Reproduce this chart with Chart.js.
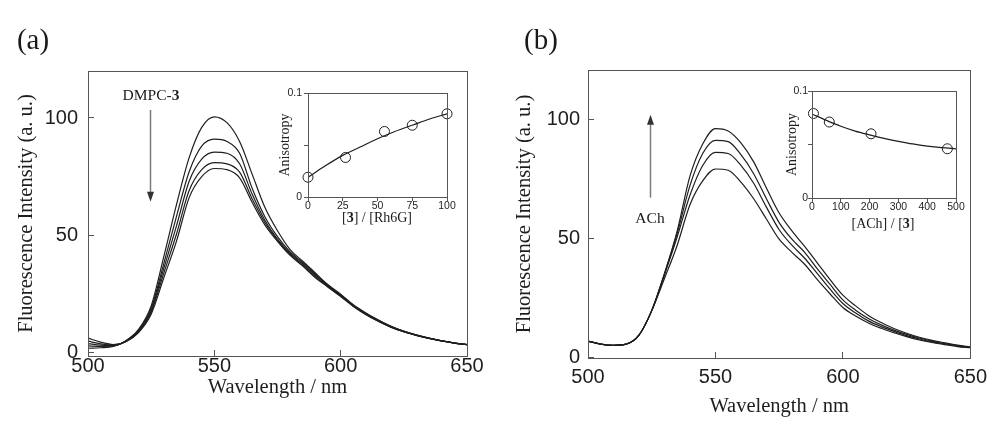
<!DOCTYPE html>
<html>
<head>
<meta charset="utf-8">
<script src="https://cdn.jsdelivr.net/npm/chart.js@4.4.1/dist/chart.umd.min.js"></script>
<style>
  html, body { margin: 0; padding: 0; background: #fff; }
  #wrap { position: relative; width: 1000px; height: 436px; overflow: hidden; }
  canvas { position: absolute; }
  .lbl {
    position: absolute; transform: translate(-50%, -50%);
    font-family: "Liberation Serif", "Times New Roman", serif;
    color: #1a1a1a; white-space: nowrap; line-height: 1;
  }
</style>
</head>
<body>
<div id="wrap">
  <canvas id="mainA" width="500" height="436" style="left:0;top:0"></canvas>
  <canvas id="mainB" width="500" height="436" style="left:500px;top:0"></canvas>
  <canvas id="insetA" width="215" height="150" style="left:255px;top:82px"></canvas>
  <canvas id="insetB" width="225" height="160" style="left:760px;top:80px"></canvas>

  <div class="lbl" style="left:33px;top:39px;font-size:29px">(a)</div>
  <div class="lbl" style="left:541px;top:39px;font-size:29px">(b)</div>
  <div class="lbl" style="left:151px;top:95px;font-size:15.5px">DMPC-<b>3</b></div>
  <div class="lbl" style="left:650px;top:218px;font-size:15.5px">ACh</div>
  <div class="lbl" style="left:377px;top:218px;font-size:14px">[<b>3</b>] / [Rh6G]</div>
  <div class="lbl" style="left:883px;top:224px;font-size:14px">[ACh] / [<b>3</b>]</div>
</div>

<script>
// ---- data ----
const wavelengths = [500, 505, 510, 515, 520, 525, 530, 535, 540, 545, 550, 555, 560, 565, 570, 575,
                     580, 585, 590, 595, 600, 605, 610, 615, 620, 625, 630, 635, 640, 645, 650];

// (a) spectra, DMPC-3 added (intensity decreases)
const specA1 = [2, 2.2, 2.8, 5.2, 10, 20, 41, 63, 83, 96, 100.5, 98, 90, 76, 62, 52,
                44, 39, 34, 29, 25, 20.5, 17, 14, 11.3, 9.3, 7.7, 6.3, 5.2, 4.3, 3.5];
const specA2 = [3, 2.8, 3.0, 5.1, 9.6, 19, 38, 58, 77, 88, 91, 90, 85, 70, 58, 49.5,
                43, 38.5, 33.5, 28.8, 24.7, 20.3, 16.8, 13.8, 11.2, 9.2, 7.6, 6.3, 5.1, 4.2, 3.5];
const specA3 = [4, 3.3, 3.2, 5.0, 9.3, 18, 36, 54, 73, 82.5, 85.5, 85, 80.5, 67.5, 56.5, 48.5,
                42.5, 38, 33, 28.5, 24.5, 20.2, 16.6, 13.7, 11.1, 9.1, 7.5, 6.2, 5.1, 4.2, 3.5];
const specA4 = [5, 3.9, 3.4, 4.9, 9, 17.3, 34, 50.5, 69, 78, 81, 80.5, 77, 65.5, 55.5, 48,
                42, 37.5, 32.5, 28.2, 24.2, 20, 16.5, 13.5, 11, 9, 7.5, 6.2, 5.1, 4.2, 3.5];
const specA5 = [6.3, 4.6, 3.6, 4.8, 8.7, 16.5, 32, 47.5, 66, 75, 78.5, 78, 74.5, 64, 54.5, 47.5,
                41.5, 37, 32, 28, 24, 19.8, 16.3, 13.4, 10.9, 9, 7.5, 6.2, 5.1, 4.2, 3.5];

// (b) spectra, ACh added (intensity increases)
const specB1 = [6.7, 5.4, 4.9, 5.4, 9.2, 19.5, 35, 53, 76, 89.5, 96, 95, 90, 82, 71, 60.5,
                53, 46.5, 39.5, 32.5, 26, 21.5, 17.5, 14.5, 12, 10, 8.3, 7, 6, 5, 4.2];
const specB2 = [6.7, 5.4, 4.9, 5.4, 9.2, 19.5, 35, 52, 72, 85.5, 91, 90.5, 85, 77, 66.5, 56.5,
                49.5, 44, 37, 30.5, 24, 19.7, 16.2, 13.5, 11.3, 9.5, 8, 6.7, 5.7, 4.8, 4.1];
const specB3 = [6.7, 5.4, 4.9, 5.4, 9.2, 19.5, 34.5, 50.5, 68, 80.5, 86, 85.5, 80.5, 73, 63, 53.5,
                47, 41.5, 35, 28.5, 22.5, 18.5, 15.2, 12.8, 10.8, 9, 7.6, 6.4, 5.5, 4.6, 4];
const specB4 = [6.7, 5.4, 4.9, 5.4, 9.2, 19.5, 33, 47, 64, 74, 79, 78.5, 73.5, 66.5, 58, 49.5,
                44, 39, 32.5, 26.5, 20.8, 17.2, 14.3, 12.1, 10.2, 8.6, 7.2, 6.1, 5.2, 4.4, 3.9];

// insets: anisotropy
const ratioA = [0, 27, 55, 75, 100];
const anisoA = [0.019, 0.038, 0.063, 0.069, 0.080];
const fitRatioA = [0, 12.5, 25, 37.5, 50, 62.5, 75, 87.5, 100];
const fitAnisoA = [0.019, 0.030, 0.040, 0.048, 0.056, 0.063, 0.069, 0.075, 0.080];

const ratioB = [5, 60, 205, 470];
const anisoB = [0.079, 0.071, 0.060, 0.046];
const fitRatioB = [0, 50, 100, 150, 200, 250, 300, 350, 400, 450, 500];
const fitAnisoB = [0.0785, 0.0725, 0.067, 0.0625, 0.059, 0.0558, 0.053, 0.0505, 0.0485, 0.047, 0.046];

// tick labels
const wlTicks = [500, 550, 600, 650];
const intTicks = [0, 50, 100];
const anisoTicks = [0, 0.05, 0.1];
const ratioTicksA = [0, 25, 50, 75, 100];
const ratioTicksB = [0, 100, 200, 300, 400, 500];

// ---- helpers ----
const SERIF = '"Liberation Serif", "Times New Roman", serif';
const SANS = '"Liberation Sans", Arial, Helvetica, sans-serif';
const INK = '#1e1e1e';

const toXY = (xs, ys) => xs.map((x, i) => ({ x, y: ys[i] }));
const fixedTicks = list => scale => { scale.ticks = list.map(v => ({ value: v })); };

// full box around the plot area
const framePlugin = {
    id: 'frame',
    afterDraw(chart) {
        const { ctx, chartArea: a } = chart;
        ctx.save();
        ctx.strokeStyle = '#555';
        ctx.lineWidth = 1;
        ctx.strokeRect(Math.round(a.left) + 0.5, Math.round(a.top) + 0.5,
            Math.round(a.right - a.left), Math.round(a.bottom - a.top));
        ctx.restore();
    }
};

// gray arrow in data coordinates
const arrowPlugin = {
    id: 'arrow',
    afterDatasetsDraw(chart, args, opts) {
        if (!opts || opts.x == null) return;
        const { ctx, scales } = chart;
        const px = Math.round(scales.x.getPixelForValue(opts.x)) + 0.5;
        const y0 = scales.y.getPixelForValue(opts.from);
        const y1 = scales.y.getPixelForValue(opts.to);
        const dir = y1 > y0 ? 1 : -1;
        ctx.save();
        ctx.strokeStyle = '#7a7a7a';
        ctx.fillStyle = '#333';
        ctx.lineWidth = 1.5;
        ctx.beginPath();
        ctx.moveTo(px, y0);
        ctx.lineTo(px, y1 - dir * 8);
        ctx.stroke();
        ctx.beginPath();
        ctx.moveTo(px, y1);
        ctx.lineTo(px - 3.5, y1 - dir * 10);
        ctx.lineTo(px + 3.5, y1 - dir * 10);
        ctx.closePath();
        ctx.fill();
        ctx.restore();
    }
};

function spectrumSet(series) {
    return series.map(s => ({
        data: toXY(wavelengths, s),
        borderColor: INK,
        borderWidth: 1.2,
        pointRadius: 0,
        fill: false,
        cubicInterpolationMode: 'monotone'
    }));
}

function mainChart(id, series, g) {
    return new Chart(document.getElementById(id), {
        type: 'line',
        data: { datasets: spectrumSet(series) },
        options: {
            responsive: false,
            animation: false,
            layout: { padding: { left: 0, right: g.right, top: g.top, bottom: 0 } },
            plugins: { legend: { display: false }, tooltip: { enabled: false }, arrow: g.arrow },
            scales: {
                x: {
                    type: 'linear', min: 500, max: 650,
                    afterBuildTicks: fixedTicks(wlTicks),
                    afterFit: s => { s.height = g.xh; },
                    grid: { drawOnChartArea: false, color: '#555', tickLength: -6 },
                    border: { display: false },
                    ticks: { color: INK, padding: g.xpad, maxRotation: 0,
                             font: { family: SANS, size: 20 } },
                    title: { display: true, text: 'Wavelength / nm', color: INK,
                             font: { family: SERIF, size: 20.5 },
                             padding: { top: 0, bottom: g.xtitle } }
                },
                y: {
                    type: 'linear', min: g.ymin, max: g.ymax,
                    afterBuildTicks: fixedTicks(intTicks),
                    afterFit: s => { s.width = 88; },
                    grid: { drawOnChartArea: false, color: '#555', tickLength: -6 },
                    border: { display: false },
                    ticks: { color: INK, padding: g.ypad, font: { family: SANS, size: 20 } },
                    title: { display: true, text: 'Fluorescence Intensity (a. u.)', color: INK,
                             font: { family: SERIF, size: 20.5 },
                             padding: { top: g.ytitle, bottom: 0 } }
                }
            }
        },
        plugins: [framePlugin, arrowPlugin]
    });
}

function insetChart(id, pts, fit, g) {
    return new Chart(document.getElementById(id), {
        type: 'scatter',
        data: {
            datasets: [
                { data: fit, showLine: true, borderColor: INK, borderWidth: 1.2, pointRadius: 0,
                  cubicInterpolationMode: 'monotone' },
                { data: pts, pointRadius: 5, pointBackgroundColor: '#fff', pointBorderColor: INK,
                  pointBorderWidth: 1, clip: false }
            ]
        },
        options: {
            responsive: false,
            animation: false,
            layout: { padding: { left: 0, right: g.right, top: 11, bottom: 0 } },
            plugins: { legend: { display: false }, tooltip: { enabled: false } },
            scales: {
                x: {
                    type: 'linear', min: g.xmin, max: g.xmax,
                    afterBuildTicks: fixedTicks(g.xticks),
                    afterFit: s => { s.height = g.xh; },
                    grid: { drawOnChartArea: false, color: '#555', tickLength: 4 },
                    border: { display: false },
                    ticks: { color: INK, padding: 0, maxRotation: 0,
                             font: { family: SANS, size: 10.5, lineHeight: 1 } }
                },
                y: {
                    type: 'linear', min: 0, max: 0.1,
                    afterBuildTicks: fixedTicks(anisoTicks),
                    afterFit: s => { s.width = g.yw; },
                    grid: { drawOnChartArea: false, color: '#555', tickLength: 4 },
                    border: { display: false },
                    ticks: { color: INK, padding: g.ypad,
                             font: { family: SANS, size: 10.5, lineHeight: 1 },
                             callback: v => (v === 0.05 ? '' : String(v)) },
                    title: { display: true, text: 'Anisotropy', color: INK,
                             font: { family: SERIF, size: 14 },
                             padding: { top: g.ytitle, bottom: 0 } }
                }
            }
        },
        plugins: [framePlugin]
    });
}

function init() {
    mainChart('mainA', [specA1, specA2, specA3, specA4, specA5], {
        right: 33, top: 71, xh: 80, xpad: 4, xtitle: 36.5, ypad: 16, ytitle: 14.7,
        ymin: -1.3, ymax: 120, arrow: { x: 524.5, from: 103.4, to: 64.3 }
    });
    mainChart('mainB', [specB1, specB2, specB3, specB4], {
        right: 25, top: 70, xh: 78, xpad: 13, xtitle: 16.7, ypad: 14, ytitle: 12.7,
        ymin: -0.4, ymax: 120.6, arrow: { x: 524.4, from: 67, to: 101.8 }
    });
    insetChart('insetA', toXY(ratioA, anisoA), toXY(fitRatioA, fitAnisoA), {
        right: 23, xh: 35, yw: 53, ypad: 2, ytitle: 21.6,
        xmin: 0, xmax: 100, xticks: ratioTicksA
    });
    insetChart('insetB', toXY(ratioB, anisoB), toXY(fitRatioB, fitAnisoB), {
        right: 29, xh: 42, yw: 52, ypad: 0, ytitle: 23.6,
        xmin: 0, xmax: 500, xticks: ratioTicksB
    });
}

if (document.readyState === 'loading') {
    document.addEventListener('DOMContentLoaded', init);
} else {
    init();
}
</script>
</body>
</html>
